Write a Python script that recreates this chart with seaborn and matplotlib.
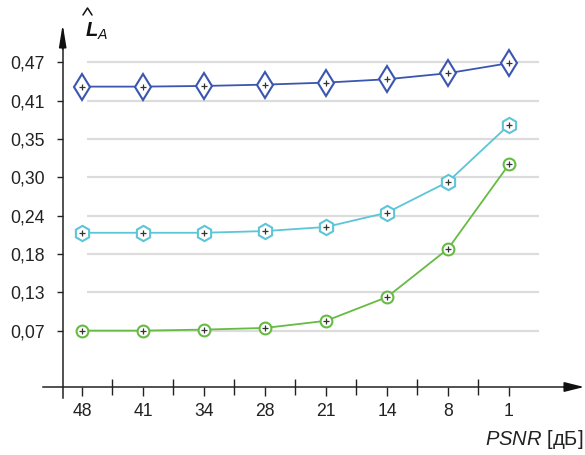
import numpy as np
import pandas as pd
import matplotlib
matplotlib.use("Agg")
import matplotlib.pyplot as plt
from matplotlib.lines import Line2D
import seaborn as sns

# данные
psnr = ["48", "41", "34", "28", "21", "14", "8", "1"]
blue_vals = [0.434, 0.434, 0.435, 0.437, 0.440, 0.445, 0.454, 0.469]
cyan_vals = [0.216, 0.216, 0.216, 0.2185, 0.2246, 0.246, 0.292, 0.377]
green_vals = [0.070, 0.070, 0.0715, 0.074, 0.0846, 0.120, 0.192, 0.318]
ytick_labels = ["0,07", "0,13", "0,18", "0,24", "0,30", "0,35", "0,41", "0,47"]

pos = np.arange(len(psnr))
df = pd.DataFrame({"pos": pos, "blue": blue_vals, "cyan": cyan_vals, "green": green_vals})

sns.set_style("white")
plt.rcParams["font.family"] = ["Liberation Sans", "DejaVu Sans"]
plt.rcParams["mathtext.fontset"] = "custom"
plt.rcParams["mathtext.it"] = "Liberation Sans:italic"
plt.rcParams["mathtext.bf"] = "Liberation Sans:bold:italic"
plt.rcParams["mathtext.rm"] = "Liberation Sans"

W, H = 585, 455
fig = plt.figure(figsize=(W / 100, H / 100), dpi=100)
ax = fig.add_axes([43 / W, 55 / H, 542 / W, 378 / H])

xlim = (-0.639, 8.246)
ylim = (-0.0335, 0.5304)
ax.set_xlim(*xlim)
ax.set_ylim(*ylim)

yticks = np.linspace(0.07, 0.47, 8)
ax.hlines(yticks, 0.08, 7.49, color="#dcdcdc", lw=1.6, zorder=0)

styles = {
    "blue": dict(color="#3a56b0", marker="d", ms=13),
    "cyan": dict(color="#5cc5d8", marker="h", ms=11),
    "green": dict(color="#66bb44", marker="o", ms=8.5),
}
for col, st in styles.items():
    sns.lineplot(data=df, x="pos", y=col, ax=ax, color=st["color"], lw=1.3,
                 marker=st["marker"], markersize=st["ms"], markerfacecolor="white",
                 markeredgecolor=st["color"], markeredgewidth=1.5, zorder=3)
    ax.plot(df["pos"], df[col], ls="none", marker="+", ms=4.5, mew=0.9,
            color="#333333", zorder=4)

# оси со стрелками
x0 = -0.316
y0 = -0.0141
for s in ["top", "right"]:
    ax.spines[s].set_visible(False)
ax.spines["left"].set_position(("data", x0))
ax.spines["bottom"].set_position(("data", y0))
ax.spines["left"].set_bounds(-0.031, 0.51)
ax.spines["bottom"].set_bounds(xlim[0], 8.0)
for s in ["left", "bottom"]:
    ax.spines[s].set_color("#222222")
    ax.spines[s].set_linewidth(1.1)

ax.annotate("", xy=(8.23, y0), xytext=(7.9, y0),
            arrowprops=dict(arrowstyle="-|>,head_length=1.2,head_width=0.3",
                            color="#111111", lw=1.1, shrinkA=0, shrinkB=0),
            annotation_clip=False)
ax.annotate("", xy=(x0, 0.527), xytext=(x0, 0.49),
            arrowprops=dict(arrowstyle="-|>,head_length=1.35,head_width=0.22",
                            color="#111111", lw=1.1, shrinkA=0, shrinkB=0),
            annotation_clip=False)

ax.set_xticks(pos, psnr)
ax.set_xticks(pos[:-1] + 0.5, minor=True)
ax.set_yticks(yticks, ytick_labels)
ax.tick_params(axis="x", which="major", bottom=True, direction="out", length=6.5,
               width=1, pad=5, labelsize=12.7, colors="#222222")
ax.tick_params(axis="x", which="minor", bottom=True, direction="inout", length=11,
               width=1, colors="#222222")
ax.tick_params(axis="y", left=True, direction="out", length=4.3, width=1, pad=8.5,
               labelsize=12.7, colors="#222222")
ax.set_xlabel("")
ax.set_ylabel("")

# подпись оси Y: L с крышкой
fig.text(85 / W, 1 - 37 / H, r"$\mathbf{L}_{\mathit{A}}$", fontsize=14.5,
         color="#111111", ha="left", va="baseline")
fig.add_artist(Line2D([83 / W, 87.5 / W, 92 / W], [1 - 15 / H, 1 - 8 / H, 1 - 15 / H],
                      color="#111111", lw=1.1, transform=fig.transFigure))
fig.text(583 / W, 1 - 445 / H, r"$\mathit{PSNR}$ [дБ]", fontsize=14.5,
         color="#222222", ha="right", va="baseline")

fig.savefig("out.png", dpi=100)
